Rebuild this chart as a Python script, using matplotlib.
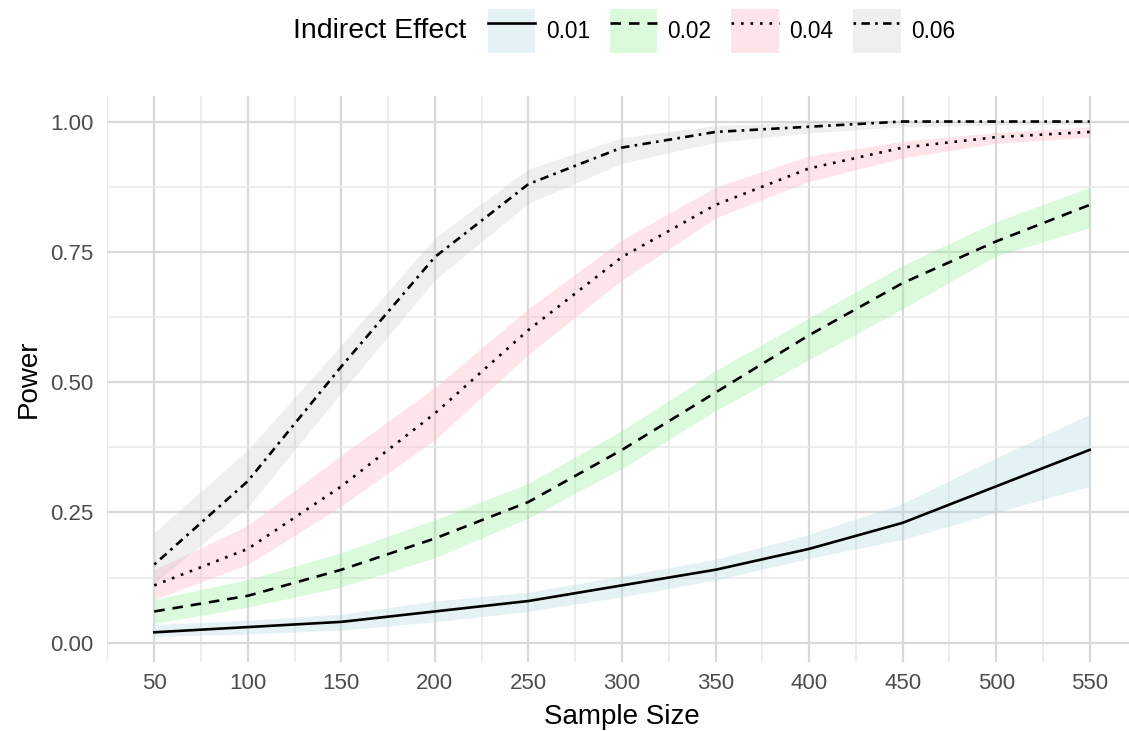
import matplotlib
matplotlib.use("Agg")
import matplotlib.pyplot as plt
from matplotlib.lines import Line2D
from matplotlib.patches import Patch
from matplotlib.ticker import MultipleLocator

plt.rcParams['font.family'] = ['Liberation Sans', 'DejaVu Sans']

# sample sizes and power per indirect effect (line = estimate, lo/hi = ribbon)
sizes = [50, 100, 150, 200, 250, 300, 350, 400, 450, 500, 550]
effects = ['0.01', '0.02', '0.04', '0.06']

power_01 = [0.02, 0.03, 0.04, 0.06, 0.08, 0.11, 0.14, 0.18, 0.23, 0.30, 0.37]
lo_01 = [0.012, 0.017, 0.024, 0.040, 0.060, 0.088, 0.120, 0.162, 0.198, 0.250, 0.300]
hi_01 = [0.035, 0.043, 0.055, 0.080, 0.097, 0.128, 0.160, 0.208, 0.267, 0.355, 0.438]

power_02 = [0.06, 0.09, 0.14, 0.20, 0.27, 0.37, 0.48, 0.59, 0.69, 0.77, 0.84]
lo_02 = [0.037, 0.068, 0.107, 0.163, 0.239, 0.334, 0.445, 0.543, 0.641, 0.742, 0.796]
hi_02 = [0.083, 0.121, 0.173, 0.236, 0.306, 0.407, 0.522, 0.623, 0.724, 0.808, 0.874]

power_04 = [0.11, 0.18, 0.30, 0.44, 0.60, 0.74, 0.84, 0.91, 0.95, 0.97, 0.98]
lo_04 = [0.083, 0.150, 0.262, 0.389, 0.553, 0.696, 0.815, 0.885, 0.930, 0.958, 0.970]
hi_04 = [0.140, 0.225, 0.360, 0.490, 0.641, 0.773, 0.874, 0.934, 0.962, 0.979, 0.990]

power_06 = [0.15, 0.31, 0.53, 0.74, 0.88, 0.95, 0.98, 0.99, 1.00, 1.00, 1.00]
lo_06 = [0.115, 0.260, 0.480, 0.696, 0.843, 0.920, 0.960, 0.978, 0.990, 0.993, 0.995]
hi_06 = [0.211, 0.370, 0.571, 0.777, 0.909, 0.969, 0.992, 1.000, 1.000, 1.000, 1.000]

powers = [power_01, power_02, power_04, power_06]
lows = [lo_01, lo_02, lo_04, lo_06]
highs = [hi_01, hi_02, hi_04, hi_06]

fills = [('lightblue', 0.32), ('lightgreen', 0.32), ('pink', 0.42), ('#bfbfbf', 0.24)]
styles = ['-', (0, (4, 3)), (0, (1, 2.6)), (0, (1, 2, 3.2, 2))]

fig = plt.figure(figsize=(11.29, 7.31), dpi=100)
ax = fig.add_axes([0.0952, 0.0944, 0.9114, 0.7743])

for i in range(len(effects)):
    ax.fill_between(sizes, lows[i], highs[i], color=fills[i][0],
                    alpha=fills[i][1], linewidth=0, zorder=2)
for i in range(len(effects)):
    ax.plot(sizes, powers[i], color='black', lw=1.9, linestyle=styles[i], zorder=3)

ax.set_xlim(25, 575)
ax.set_ylim(-0.037, 1.049)
ax.set_xticks(sizes)
ax.set_yticks([0, 0.25, 0.5, 0.75, 1.0])
ax.set_yticklabels(['0.00', '0.25', '0.50', '0.75', '1.00'])
ax.xaxis.set_minor_locator(MultipleLocator(25))
ax.yaxis.set_minor_locator(MultipleLocator(0.125))

ax.grid(which='major', color='#d9d9d9', lw=1.6, zorder=0)
ax.grid(which='minor', color='#e8e8e8', lw=1.1, zorder=0)
ax.set_axisbelow(True)
for s in ax.spines.values():
    s.set_visible(False)
ax.tick_params(which='both', length=0)
ax.tick_params(axis='x', labelsize=16, labelcolor='#4d4d4d', pad=8)
ax.tick_params(axis='y', labelsize=16, labelcolor='#4d4d4d', pad=10)

ax.set_xlabel('Sample Size', fontsize=20, labelpad=7)
ax.set_ylabel('Power', fontsize=20, labelpad=6)

# legend across the top
handles = []
for i in range(len(effects)):
    patch = Patch(facecolor=fills[i][0], alpha=fills[i][1], edgecolor='none')
    line = Line2D([], [], color='black', lw=1.9, linestyle=styles[i])
    handles.append((patch, line))

fig.text(0.2595, 0.9576, 'Indirect Effect', fontsize=20.5, ha='left', va='center')
fig.legend(handles, effects, loc='center left', bbox_to_anchor=(0.4322, 0.9576),
           ncol=4, frameon=False, fontsize=16.3, handlelength=2.1, handleheight=2.65,
           handletextpad=0.45, columnspacing=0.88, borderpad=0, borderaxespad=0)

fig.savefig('out.png', dpi=100)
